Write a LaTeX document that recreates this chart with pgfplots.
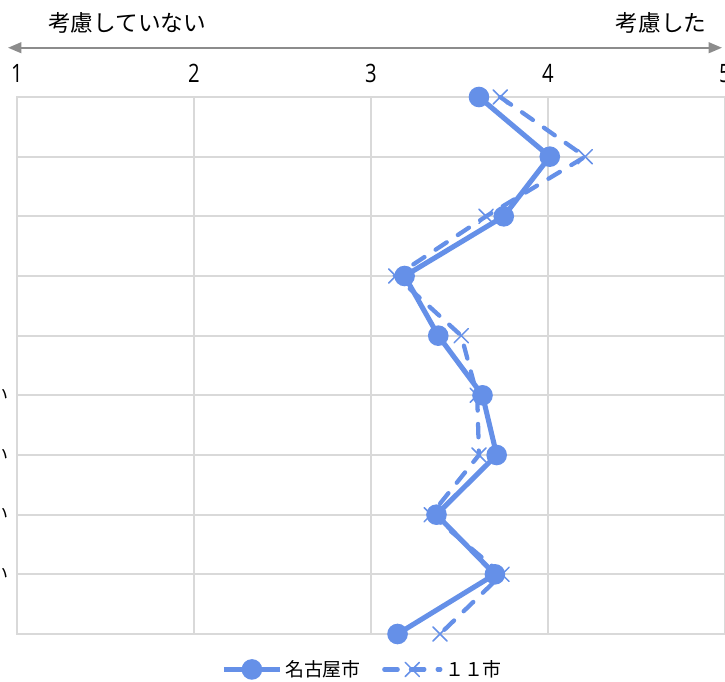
\documentclass[border=0pt]{standalone}
\usepackage{pgfplots}
\usepackage{pgfplotstable}
\pgfplotsset{compat=1.18}
\usepackage{fontspec}
\setmainfont{Noto Sans CJK JP}
\newfontfamily\tickfont[FakeStretch=0.8]{Open Sans}
\usetikzlibrary{arrows.meta}

\definecolor{serieblue}{HTML}{6590E8}
\definecolor{gridgray}{HTML}{D9D9D9}
\definecolor{arrowgray}{HTML}{8C8C8C}

% row: position from the bottom (9 = first item at the top)
\pgfplotstableread{
row nagoya cities
9   3.61   3.73
8   4.01   4.21
7   3.75   3.65
6   3.19   3.14
5   3.38   3.51
4   3.63   3.60
3   3.71   3.61
2   3.37   3.34
1   3.70   3.74
0   3.15   3.39
}\scores

\begin{document}
\begin{tikzpicture}[x=1pt,y=1pt]
\useasboundingbox (0,0) rectangle (543.75,511.5);
\clip (0,0) rectangle (543.75,511.5);
\begin{axis}[
  at={(12.75pt,36pt)}, anchor=south west,
  scale only axis, width=531pt, height=402.75pt,
  xmin=1, xmax=5, ymin=0, ymax=9,
  xtick={1,2,3,4,5}, xticklabels={1,2,3,4,5},
  xticklabel pos=upper,
  xticklabel style={font=\tickfont\fontsize{19}{19}\selectfont, anchor=south, inner sep=0pt, yshift=10.5pt},
  ytick={0,...,9},
  yticklabels={,い,い,い,い,,,,,},
  yticklabel style={font=\fontsize{13.5}{16}\selectfont, anchor=east, inner sep=0pt, xshift=-6pt},
  major tick length=0pt,
  grid=major,
  major grid style={gridgray, line width=1.3pt},
  axis line style={gridgray, line width=1.3pt},
  legend columns=2, reverse legend,
  legend style={at={(0.4887,-0.066)}, anchor=center, draw=none, fill=none,
    font=\fontsize{14.2}{16}\selectfont,
    /tikz/every even column/.append style={column sep=14pt}},
  legend image code/.code={\draw[mark repeat=2,mark phase=2] plot coordinates {(0pt,0pt) (21pt,0pt) (42pt,0pt)};},
  clip=false,
]
\addplot[serieblue, line width=3.2pt, dash pattern=on 10pt off 10pt, line cap=round,
  mark=x, mark size=7.5pt, mark options={solid, line width=1.1pt}]
  table[x=cities, y=row] {\scores};
\addlegendentry{１１市}
\addplot[serieblue, line width=3.8pt, mark=*, mark size=5.8pt, mark options={solid}]
  table[x=nagoya, y=row] {\scores};
\addlegendentry{名古屋市}
\end{axis}
\draw[arrowgray, line width=1.5pt,
  {Triangle[length=10pt,width=8pt]}-{Triangle[length=10pt,width=8pt]}]
  (6,475.7) -- (541.5,475.7);
\node[font=\fontsize{17}{20}\selectfont, inner sep=0pt] at (95.25,494.25) {考慮していない};
\node[font=\fontsize{17}{20}\selectfont, inner sep=0pt] at (495.75,494.25) {考慮した};
\end{tikzpicture}
\end{document}
